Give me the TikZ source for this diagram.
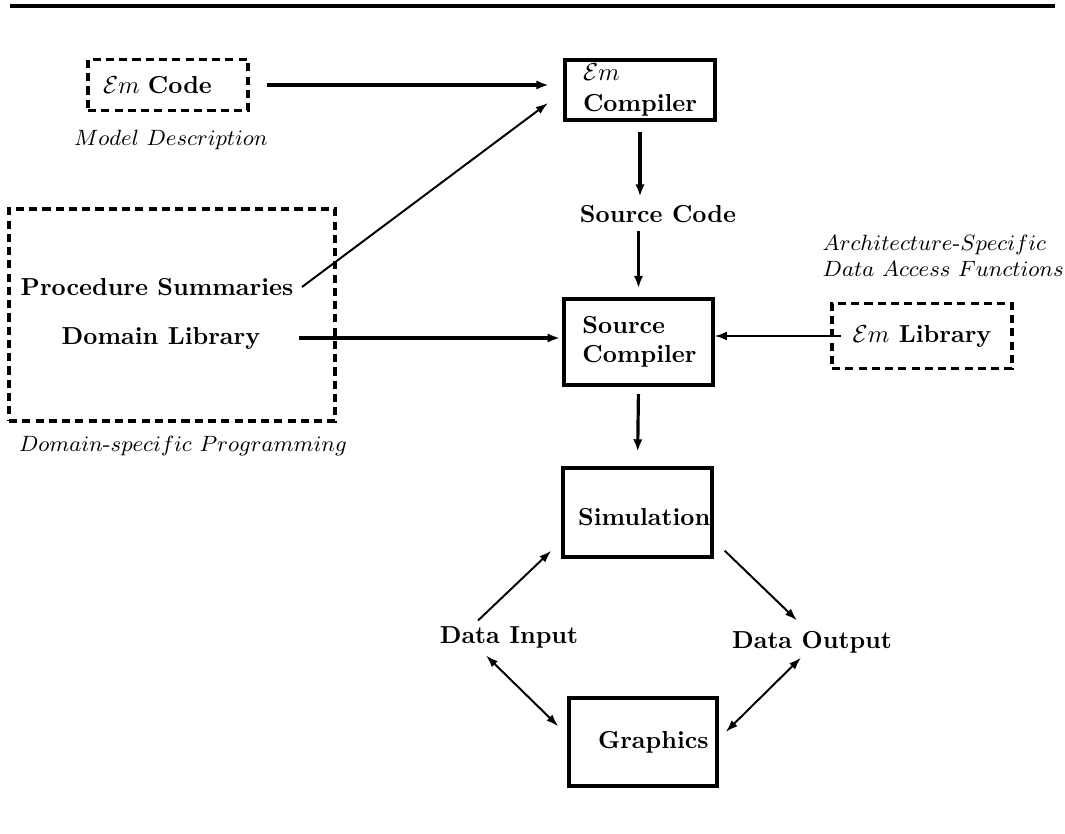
\documentclass[tikz,border=0pt]{standalone}
\usetikzlibrary{arrows.meta}
\tikzset{
  solidbox/.style={draw, line width=1.4pt, font=\bfseries, align=left, inner ysep=0pt},
  dashbox/.style={draw, line width=1.35pt, dash pattern=on 3.3pt off 2.1pt, font=\bfseries},
  tag/.style={font=\bfseries},
  note/.style={font=\fontsize{9.2pt}{10.4pt}\selectfont},
  thickarr/.style={-{Latex[length=5pt,width=3.8pt]}, line width=1.3pt},
  thinarr/.style={-{Latex[length=5pt,width=3.4pt]}, line width=0.8pt},
  dblarr/.style={{Latex[length=5pt,width=3.4pt]}-{Latex[length=5pt,width=3.4pt]}, line width=0.8pt},
}

\begin{document}
\begin{tikzpicture}[x=0.407pt, y=-0.407pt]
  \useasboundingbox (0,0) rectangle (1065,833);
  \draw[line width=1.4pt] (10,6) -- (1055,6);

  \node[dashbox, align=left, text width=52.9pt, inner xsep=6.1pt, minimum height=20.8pt] (emcode) at (168,85) {$\mathcal{E}m$ Code};
  \node[note] (moddesc) at (171,140) {$Model\ Description$};
  \node[solidbox, text width=46.4pt, inner xsep=7.3pt, minimum height=24.4pt] (emcomp) at (640,90) {$\mathcal{E}m$\\[1pt]Compiler};
  \node[tag] (srccode) at (658,214) {Source Code};
  \node[solidbox, text width=45.6pt, inner xsep=7.5pt, minimum height=35pt] (srccomp) at (638.5,342) {Source\\Compiler};
  \node[solidbox, text width=48.4pt, inner xsep=6.1pt, minimum height=36.2pt, text height=11pt] (sim) at (637.5,512.5) {Simulation};
  \node[solidbox, text width=36.6pt, inner xsep=11.8pt, minimum height=35.8pt] (graph) at (643,742) {Graphics};
  \node[tag] (datain) at (509,637) {Data Input};
  \node[tag] (dataout) at (812,642) {Data Output};

  \node[dashbox, minimum width=132.7pt, minimum height=86.3pt] (dom) at (172,315) {};
  \node[tag] (procsum) at (157,287) {Procedure Summaries};
  \node[tag] (domlib) at (161,338) {Domain Library};
  \node[note] (domprog) at (183,446) {$Domain\mbox{-}specific\ Programming$};

  \node[dashbox, minimum width=73.3pt, minimum height=26.5pt] (emlib) at (922,336) {$\mathcal{E}m$ Library};
  \node[note, anchor=west, align=left] (arch) at (814,256) {$Architecture\mbox{-}Specific$\\[0pt]$Data\ Access\ Functions$};

  \coordinate (cin) at (548,103);
  \draw[thickarr, shorten <=7pt, shorten >=6pt] (emcode.east) -- (emcode.east -| emcomp.west);
  \draw[thinarr] (procsum.east) -- (cin);
  \draw[thickarr, shorten <=4pt] (emcomp.south) -- (emcomp.south |- srccode.north);
  \draw[thickarr, shorten >=3.7pt] (srccomp.north |- srccode.south) -- (srccomp.north);
  \draw[thickarr, shorten <=12.4pt, shorten >=1pt] (domlib.east) -- (domlib.east -| srccomp.west);
  \draw[-{Latex[length=5pt,width=3.6pt]}, line width=0.7pt, shorten <=-4.5pt] (emlib.west) -- (emlib.west -| srccomp.east);
  \draw[thickarr, shorten <=3pt, shorten >=6pt] (srccomp.south) -- (sim.north);

  \draw[thinarr] ([shift={(-31,3)}]datain.north) -- ([shift={(-10,-8)}]sim.south west);
  \draw[thinarr] ([shift={(11,-8)}]sim.south east) -- ([shift={(-15,-2)}]dataout.north);
  \draw[dblarr] ([shift={(-23,-1)}]datain.south) -- ([shift={(-9,30)}]graph.north west);
  \draw[dblarr] ([shift={(-11,-4)}]dataout.south) -- ([shift={(7,-10)}]graph.east);
\end{tikzpicture}
\end{document}
